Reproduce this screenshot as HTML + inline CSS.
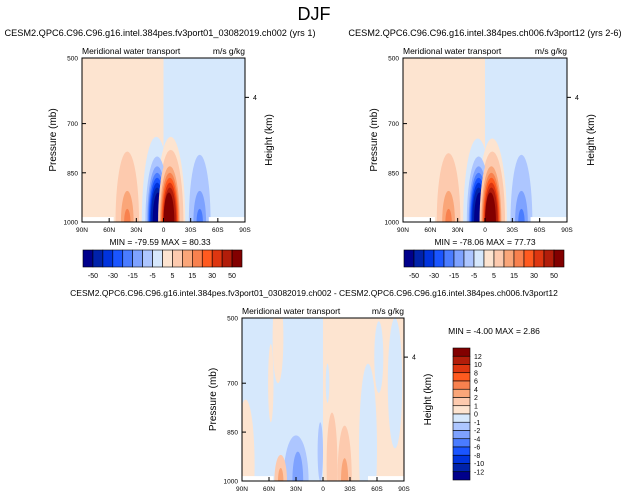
<!DOCTYPE html>
<html><head><meta charset="utf-8"><style>
html,body{margin:0;padding:0;background:#fff;width:628px;height:500px;overflow:hidden;}
svg{display:block;font-family:"Liberation Sans",Arial,sans-serif;overflow:hidden;}
</style></head><body>
<svg id="chart" width="628" height="500" viewBox="0 0 628 500">
<text x="314" y="20" font-size="18" text-anchor="middle">DJF</text>
</svg>
<script>
const palette=["#00008b","#0022aa","#0033dd","#1a55ff","#4a7cff","#7ea2ff","#adc6ff","#d6e8fc","#fde4d0","#fdcaae","#faa679","#f8814e","#ff5a1f","#de3610","#b21d0a","#820000"];
const topBarLabels=["-50","-30","-15","-5","5","15","30","50"];
const diffBarLabels=["12","10","8","6","4","2","1","0","-1","-2","-4","-6","-8","-10","-12"];
const latTicks=[90,60,30,0,-30,-60,-90];
const latLabels=["90N","60N","30N","0","30S","60S","90S"];
const presTicks=[500,700,850,1000];
// blobs: [lat, pressure, halfWidthLat, halfHeightMb, level]
const blobsA=[[40,1000,13,215,9],[40,1000,7,95,10],[40,1000,3.5,40,11],
[-40,1000,12,205,6],[-40,1000,7,95,5],[-40,1000,3.5,40,4],
[8,1000,16,260,7],[-8,1000,16,260,8],[-8,1000,14,220,9],
[7,1000,13,200,6],[7,1000,11,170,5],[7,1000,10,150,4],[7,1000,9,135,3],[7,1000,8,120,2],[7,1000,7,105,1],[6,1000,6,90,0],
[-7,1000,13,200,9],[-7,1000,11,170,10],[-7,1000,10,150,11],[-7,1000,9,135,12],[-7,1000,8,120,13],[-7,1000,7,105,14],[-6,1000,6,90,15]];
const blobsB=[[40,1000,13,210,9],[40,1000,7,95,10],[40,1000,3.5,40,11],
[-40,1000,12,205,6],[-40,1000,7,95,5],[-40,1000,3.5,40,4],
[8,1000,16,255,7],[-8,1000,16,255,8],[-8,1000,14,215,9],
[7,1000,13,200,6],[7,1000,11,170,5],[7,1000,10,150,4],[7,1000,9,135,3],[7,1000,8,120,2],[7,1000,7,105,1],[6,1000,6,90,0],
[-7,1000,13,200,9],[-7,1000,11,170,10],[-7,1000,10,150,11],[-7,1000,9,135,12],[-7,1000,8,120,13],[-7,1000,7,105,14],[-6,1000,6,90,15]];
const blobsD=[[86,950,10,200,8],[50,560,6,140,8],[58,700,3,120,8],[-62,620,5,110,7],[-80,700,8,200,7],[-50,900,10,260,7],
[30,1000,14,140,6],[28,1000,6,90,5],[3,910,3,90,6],[47,1000,7,80,9],[47,1000,3,40,10],
[-10,950,6,160,9],[-24,1000,8,170,9],[-24,1000,4,70,10],[-5,700,2,60,7]];
const minmaxA=["MIN = -79.59  MAX =  80.33"];
const minmaxB=["MIN = -78.06  MAX =  77.73"];
const minmaxD=["MIN = -4.00  MAX =  2.86"];
const svg=document.getElementById('chart');
const NS='http://www.w3.org/2000/svg';
function mk(tag,attrs,parent){const e=document.createElementNS(NS,tag);for(const k in attrs)e.setAttribute(k,attrs[k]);(parent||svg).appendChild(e);return e;}
function txt(x,y,s,size,anchor,parent){const t=mk('text',{x:x,y:y,'font-size':size,'text-anchor':anchor||'start'},parent);t.textContent=s;return t;}
function panel(id,L,T,W,H,blobs,bgL,bgR,title,mm,mmx,mmy){
  const g=mk('g',{});
  
  
  const xs=lat=>L+(90-lat)/180*W;
  const ys=p=>T+(p-500)/500*H;
  const f=mk('g',{},g);
  
  
  mk('rect',{x:L,y:T,width:xs(0)-L,height:H,fill:palette[bgL]},f);
  mk('rect',{x:xs(0),y:T,width:L+W-xs(0),height:H,fill:palette[bgR]},f);
  blobs.forEach(b=>{
    const cx=xs(b[0]),cy=ys(b[1]),rx=b[2]/180*W,ry=b[3]/500*H;
    const pts=[];
    for(let k=0;k<=48;k++){const a=k/48*2*Math.PI;
      const px=Math.min(L+W,Math.max(L,cx+rx*Math.cos(a)));
      const py=Math.min(T+H,Math.max(T,cy+ry*Math.sin(a)));
      pts.push(px.toFixed(2)+','+py.toFixed(2));}
    const el=mk('polygon',{points:pts.join(' '),fill:palette[b[4]]},f);
    
    });
  mk('rect',{x:xs(90),y:ys(985),width:xs(55)-xs(90),height:ys(1000)-ys(985),fill:'#fff'},f);
  mk('rect',{x:xs(-50),y:ys(985),width:xs(-90)-xs(-50),height:ys(1000)-ys(985),fill:'#fff'},f);
  mk('rect',{x:L,y:T,width:W,height:H,fill:'none',stroke:'#000','stroke-width':1},g);
  latTicks.forEach((v,i)=>{mk('line',{x1:xs(v),x2:xs(v),y1:T+H,y2:T+H-4,stroke:'#000'},g);
    const t=txt(xs(v),T+H+10,latLabels[i],6.5,'middle',g);
    
    });
  presTicks.forEach(v=>{mk('line',{x1:L,x2:L+4,y1:ys(v),y2:ys(v),stroke:'#000'},g);
    const t=txt(L-4,ys(v)+2.5,String(v),6.5,'end',g);
    
    });
  const h4=ys(620);
  mk('line',{x1:L+W,x2:L+W+4,y1:h4,y2:h4,stroke:'#000'},g);
  txt(L+W+8,h4+2.5,'4',7,'start',g);
  const yl=txt(0,0,'Pressure (mb)',10,'middle',g);yl.setAttribute('transform',`translate(${L-26},${T+H/2}) rotate(-90)`);
  
  
  const yr=txt(0,0,'Height (km)',10,'middle',g);yr.setAttribute('transform',`translate(${L+W+27},${T+H/2}) rotate(-90)`);
  
  
  txt(L,T-4,'Meridional water transport',8.5,'start',g);
  txt(L+W,T-4,'m/s g/kg',8.5,'end',g);
  const tt=txt(title[1],T-22,title[0],title[2],'middle',g);
  
  
  const m=txt(mmx,mmy,mm[0],8.5,'middle',g);
  
  
  return {xs,ys};
}
function hbar(L,T,W,H){const g=mk('g',{});
  
  
  const bw=W/16;
  palette.forEach((c,i)=>mk('rect',{x:L+i*bw,y:T,width:bw,height:H,fill:c,stroke:'#000','stroke-width':0.6},g));
  topBarLabels.forEach((s,i)=>txt(L+(2*i+1)*bw,T+H+11,s,7,'middle',g));}
panel('a',82,58,163,164,blobsA,8,7,['CESM2.QPC6.C96.C96.g16.intel.384pes.fv3port01_03082019.ch002 (yrs 1)',160,9.2],minmaxA,160,245);
hbar(83,250,159,17);
panel('b',403,58,164,164,blobsB,8,7,['CESM2.QPC6.C96.C96.g16.intel.384pes.ch006.fv3port12 (yrs 2-6)',485,9.2],minmaxB,485,245);
hbar(404,250,160,17);
panel('d',242,318,162,163,blobsD,7,8,['CESM2.QPC6.C96.C96.g16.intel.384pes.fv3port01_03082019.ch002 - CESM2.QPC6.C96.C96.g16.intel.384pes.ch006.fv3port12',314,8.5],minmaxD,494,334);
(function(){const g=mk('g',{});
  
  
  const L=453,T=348,W=17,H=132,bh=H/16;
  for(let i=0;i<16;i++)mk('rect',{x:L,y:T+i*bh,width:W,height:bh,fill:palette[15-i],stroke:'#000','stroke-width':0.6},g);
  diffBarLabels.forEach((s,i)=>txt(L+W+4,T+(i+1)*bh+2.5,s,7,'start',g));})();
</script>
</body></html>
